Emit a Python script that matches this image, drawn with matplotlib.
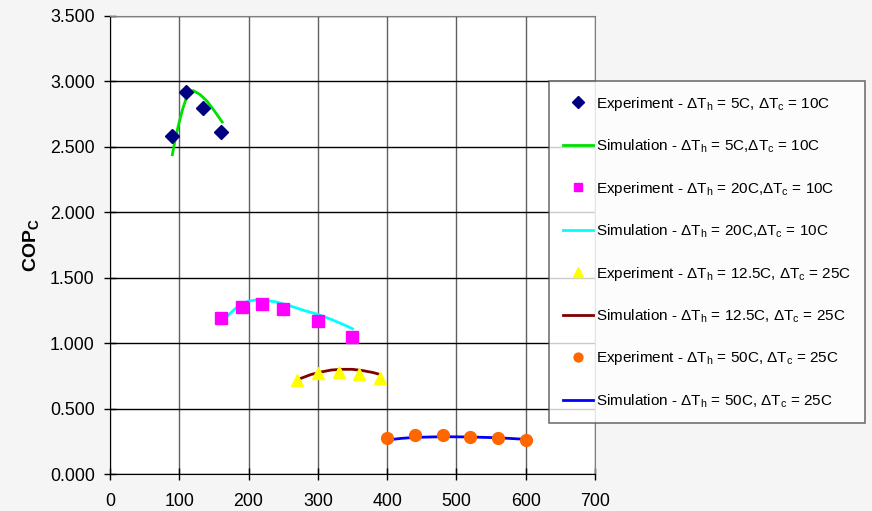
import matplotlib
matplotlib.use("Agg")
import matplotlib.pyplot as plt
from matplotlib.ticker import FormatStrFormatter, MultipleLocator

plt.rcParams['font.family'] = ['Liberation Sans', 'DejaVu Sans']
plt.rcParams['mathtext.fontset'] = 'custom'
plt.rcParams['mathtext.rm'] = 'Liberation Sans'
plt.rcParams['mathtext.it'] = 'Liberation Sans:italic'
plt.rcParams['mathtext.bf'] = 'Liberation Sans:bold'

# experiment / simulation data
exp1_x = [90, 110, 135, 160]
exp1_y = [2.58, 2.92, 2.80, 2.61]
sim1_x = [90, 95, 100, 105, 110, 115, 120, 130, 140, 150, 162]
sim1_y = [2.44, 2.58, 2.69, 2.79, 2.87, 2.92, 2.93, 2.90, 2.85, 2.78, 2.69]

exp2_x = [160, 190, 220, 250, 300, 350]
exp2_y = [1.19, 1.28, 1.30, 1.26, 1.17, 1.05]
sim2_x = [160, 170, 180, 190, 200, 210, 220, 240, 260, 280, 300, 320, 340, 350]
sim2_y = [1.15, 1.21, 1.26, 1.30, 1.32, 1.33, 1.33, 1.315, 1.285, 1.25, 1.22, 1.18, 1.135, 1.11]

exp3_x = [270, 300, 330, 360, 390]
exp3_y = [0.72, 0.77, 0.78, 0.765, 0.73]
sim3_x = [275, 290, 305, 320, 335, 350, 365, 380, 390]
sim3_y = [0.73, 0.76, 0.78, 0.795, 0.80, 0.80, 0.79, 0.775, 0.76]

exp4_x = [400, 440, 480, 520, 560, 600]
exp4_y = [0.275, 0.30, 0.295, 0.285, 0.275, 0.262]
sim4_x = [400, 420, 440, 480, 520, 560, 600]
sim4_y = [0.26, 0.272, 0.28, 0.285, 0.283, 0.277, 0.265]

labels = [
    r'Experiment - ΔT$_\mathrm{h}$ = 5C, ΔT$_\mathrm{c}$ = 10C',
    r'Simulation - ΔT$_\mathrm{h}$ = 5C,ΔT$_\mathrm{c}$ = 10C',
    r'Experiment - ΔT$_\mathrm{h}$ = 20C,ΔT$_\mathrm{c}$ = 10C',
    r'Simulation - ΔT$_\mathrm{h}$ = 20C,ΔT$_\mathrm{c}$ = 10C',
    r'Experiment - ΔT$_\mathrm{h}$ = 12.5C, ΔT$_\mathrm{c}$ = 25C',
    r'Simulation - ΔT$_\mathrm{h}$ = 12.5C, ΔT$_\mathrm{c}$ = 25C',
    r'Experiment - ΔT$_\mathrm{h}$ = 50C, ΔT$_\mathrm{c}$ = 25C',
    r'Simulation - ΔT$_\mathrm{h}$ = 50C, ΔT$_\mathrm{c}$ = 25C',
]

fig = plt.figure(figsize=(8.72, 5.11), dpi=100, facecolor='#f5f5f5')
ax = fig.add_axes([0.1261, 0.0724, 0.5562, 0.8963])
ax.set_facecolor('white')

ax.plot(exp1_x, exp1_y, ls='none', marker='D', ms=7.5, color='#000080', label=labels[0], zorder=4)
ax.plot(sim1_x, sim1_y, color='#00e000', lw=2, label=labels[1], zorder=3)
ax.plot(exp2_x, exp2_y, ls='none', marker='s', ms=8, color='#ff00ff', label=labels[2], zorder=4)
ax.plot(sim2_x, sim2_y, color='#00ffff', lw=2, label=labels[3], zorder=3)
ax.plot(exp3_x, exp3_y, ls='none', marker='^', ms=9, color='#ffff00', label=labels[4], zorder=4)
ax.plot(sim3_x, sim3_y, color='#800000', lw=2, label=labels[5], zorder=3)
ax.plot(exp4_x, exp4_y, ls='none', marker='o', ms=8.5, color='#ff6600', label=labels[6], zorder=4)
ax.plot(sim4_x, sim4_y, color='#0000ff', lw=2, label=labels[7], zorder=3)

ax.set_xlim(0, 700)
ax.set_ylim(0, 3.5)
ax.xaxis.set_major_locator(MultipleLocator(100))
ax.yaxis.set_major_locator(MultipleLocator(0.5))
ax.yaxis.set_major_formatter(FormatStrFormatter('%.3f'))
ax.tick_params(labelsize=12.8, direction='inout', length=8, width=1, colors='black')
ax.tick_params(axis='y', pad=7)
ax.tick_params(axis='x', pad=10)
ax.xaxis.grid(True, color='#606060', lw=1)
ax.yaxis.grid(True, color='black', lw=1)
ax.set_axisbelow(True)

for s in ['top', 'right']:
    ax.spines[s].set_color('#808080')
for s in ['left', 'bottom']:
    ax.spines[s].set_color('black')

ax.set_ylabel(r'COP$_\mathbf{C}$', fontsize=14, fontweight='bold', labelpad=6)

leg = ax.legend(loc='upper left', bbox_to_anchor=(0.6296, 0.8415), bbox_transform=fig.transFigure,
                borderaxespad=0, fontsize=11, frameon=True, fancybox=False, edgecolor='#505050',
                handlelength=1.95, handletextpad=0.2, labelspacing=1.62, borderpad=0.9, numpoints=1,
                markerscale=0.75)
leg.get_frame().set_linewidth(1.2)
leg.set_zorder(10)

fig.savefig('out.png', dpi=100, facecolor=fig.get_facecolor())
